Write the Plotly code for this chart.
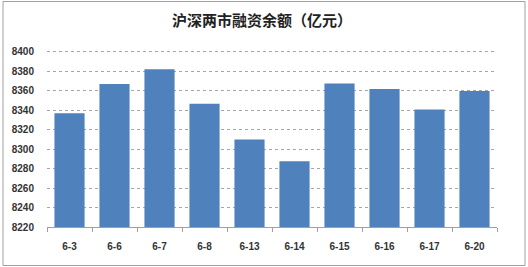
import plotly.graph_objects as go

categories = ["6-3", "6-6", "6-7", "6-8", "6-13", "6-14", "6-15", "6-16", "6-17", "6-20"]
values = [8336.7, 8366.8, 8381.8, 8346.3, 8309.7, 8287.5, 8367.2, 8361.6, 8340.5, 8359.6]
y_ticks = list(range(8220, 8401, 20))
title_text = "沪深两市融资余额（亿元）"

W, H = 528, 267
L, R, T, B = 47, 31, 48, 40
pw, ph = W - L - R, H - T - B

fig = go.Figure()
fig.add_trace(go.Bar(x=categories, y=values, marker=dict(color="#4F81BD", line=dict(width=0))))

fig.update_layout(
    width=W, height=H,
    margin=dict(l=L, r=R, t=T, b=B),
    paper_bgcolor="white", plot_bgcolor="white",
    bargap=0.33,
    showlegend=False,
    title=dict(text=title_text, x=262 / W, xanchor="center", y=1 - 21 / H, yanchor="middle",
               font=dict(family="Noto Sans CJK SC", size=15, color="#222222", weight="bold")),
    font=dict(family="Liberation Sans", size=10, color="#333333"),
)
fig.update_xaxes(
    type="category", showline=True, linecolor="#A0A0A0", linewidth=1,
    ticks="outside", tickson="boundaries", ticklen=4, tickcolor="#A0A0A0",
    showgrid=False, tickfont=dict(family="Liberation Sans", size=10, color="#333333", weight="bold"),
    ticklabelstandoff=10,
)
fig.update_yaxes(
    range=[8220, 8403.6], tickvals=y_ticks, showline=False, zeroline=False,
    showgrid=True, gridcolor="#A6A6A6", griddash="3px,3px", gridwidth=1,
    tickfont=dict(family="Liberation Sans", size=10, color="#333333", weight="bold"),
    ticklabelstandoff=12,
)
# outer chart border
fig.add_shape(type="rect", xref="paper", yref="paper",
              x0=(3 - L) / pw, x1=(525 - L) / pw,
              y0=(H - B - 265.5) / ph, y1=(H - B - 1.5) / ph,
              line=dict(color="#A0A0A0", width=1), layer="below")

fig.write_html("out.html")
